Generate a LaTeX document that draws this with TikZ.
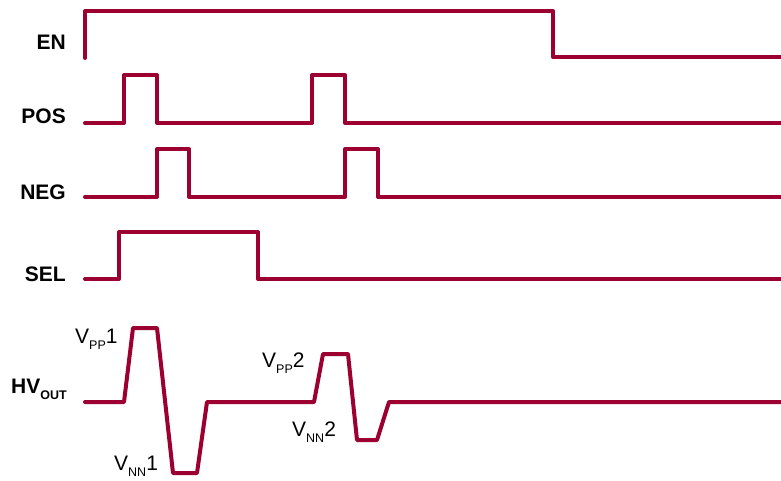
\documentclass[tikz,border=0pt]{standalone}
\usepackage{fontspec}
\setmainfont{Liberation Sans}
\usetikzlibrary{positioning}
\definecolor{sigred}{RGB}{155,0,48}
\newcommand{\lowsub}[1]{\raisebox{-0.33em}{\fontsize{12.5}{12.5}\selectfont #1}}

\begin{document}
\begin{tikzpicture}[x=1pt,y=-1pt,
    wave/.style={draw=sigred, line width=4pt, line join=round, line cap=round},
    sig/.style={font=\fontsize{21}{25}\selectfont\bfseries, anchor=base east, inner sep=0pt},
    lvl/.style={font=\fontsize{21}{25}\selectfont, anchor=base west, inner sep=0pt}]
    \useasboundingbox (0,0) rectangle (781,481);

    % Signal names on the left
    \foreach \nm/\yy in {EN/50, POS/124, NEG/199, SEL/281} {
      \node[sig] (\nm) at (66,\yy) {\nm};
    }
    \node[sig] (hvout) at (67,393) {HV\lowsub{OUT}};

    % EN
    \draw[wave] (85,58) -- (85,11) -- (553,11) -- (553,57) -- (781,57);

    % POS: two pulses
    \draw[wave] (85,123) -- (124,123) -- (124,75) -- (157,75) -- (157,123)
      -- (312,123) -- (312,75) -- (345,75) -- (345,123) -- (781,123);

    % NEG: two pulses, right after POS
    \draw[wave] (85,197) -- (157,197) -- (157,149) -- (189,149) -- (189,197)
      -- (345,197) -- (345,149) -- (378,149) -- (378,197) -- (781,197);

    % SEL
    \draw[wave] (85,279) -- (119,279) -- (119,232) -- (258,232) -- (258,279) -- (781,279);

    % HV output
    \draw[wave] (85,402) -- (124,402) -- (133,328) -- (157,328) -- (173,473)
      -- (197,473) -- (207,402) -- (314,402) -- (323,354) -- (348,354)
      -- (357,440) -- (377,440) -- (389,402) -- (781,402);

    % Level labels
    \node[lvl] (vpp1) at (75,343) {V\lowsub{PP}1};
    \node[lvl] (vnn1) at (114,470) {V\lowsub{NN}1};
    \node[lvl] (vpp2) at (262,367) {V\lowsub{PP}2};
    \node[lvl] (vnn2) at (292,436) {V\lowsub{NN}2};
\end{tikzpicture}
\end{document}
